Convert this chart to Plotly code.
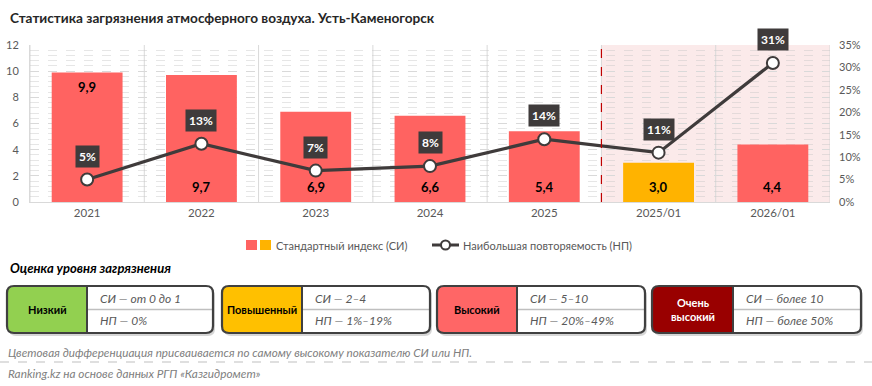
import plotly.graph_objects as go

categories = ["2021", "2022", "2023", "2024", "2025", "2025/01", "2026/01"]
si_values = [9.9, 9.7, 6.9, 6.6, 5.4, 3.0, 4.4]
si_labels = ["9,9", "9,7", "6,9", "6,6", "5,4", "3,0", "4,4"]
np_values = [5, 13, 7, 8, 14, 11, 31]
np_labels = ["5%", "13%", "7%", "8%", "14%", "11%", "31%"]
bar_colors = ["#FF6361", "#FF6361", "#FF6361", "#FF6361", "#FF6361", "#FFB300", "#FF6361"]
label_place = ["top", "bottom", "bottom", "bottom", "bottom", "bottom", "bottom"]

left_ticks = [0, 2, 4, 6, 8, 10, 12]
right_ticks = [0, 5, 10, 15, 20, 25, 30, 35]

levels = ["Низкий", "Повышенный", "Высокий", "Очень<br>высокий"]
level_colors = ["#92D050", "#FFC000", "#FF6666", "#990000"]
level_text_colors = ["#000000", "#000000", "#000000", "#FFFFFF"]
level_si = ["СИ — от 0 до 1", "СИ — 2–4", "СИ — 5–10", "СИ — более 10"]
level_np = ["НП — 0%", "НП — 1%–19%", "НП — 20%–49%", "НП — более 50%"]

FONT = "Lato"
W, H = 872, 386
L, R, T, B = 30, 830, 45, 202
PW, PH = R - L, B - T


def px(x):
    return (x - L) / PW


def py(y):
    return (B - y) / PH


fig = go.Figure()

fig.add_trace(go.Bar(
    x=categories, y=si_values, marker=dict(color=bar_colors, line=dict(width=0)),
    width=0.62, name="Стандартный индекс (СИ)", showlegend=False, hoverinfo="x+y",
))

fig.add_trace(go.Scatter(
    x=categories, y=np_values, yaxis="y2", mode="lines+markers",
    line=dict(color="#3F3B3B", width=3.2),
    marker=dict(size=12, color="#FFFFFF", line=dict(color="#3F3B3B", width=2)),
    name="Наибольшая повторяемость (НП)", showlegend=False,
))

shapes = []
annotations = []

# shaded forecast region
shapes.append(dict(type="rect", xref="x", yref="paper", x0=4.5, x1=6.5, y0=0, y1=1,
                   fillcolor="#FBEAEA", line=dict(width=0), layer="below"))
# category separators
for i in range(len(categories) + 1):
    shapes.append(dict(type="line", xref="x", yref="paper", x0=i - 0.5, x1=i - 0.5, y0=0, y1=1,
                       line=dict(color="#D9D9D9", width=1), layer="below"))
shapes.append(dict(type="line", xref="x", yref="paper", x0=4.5, x1=4.5, y0=0, y1=1,
                   line=dict(color="#C00000", width=1.2, dash="dash"), layer="above"))

# bar value labels
for i, (v, t, p) in enumerate(zip(si_values, si_labels, label_place)):
    if p == "top":
        annotations.append(dict(x=i, y=v, xref="x", yref="y", text="<b>" + t + "</b>", showarrow=False,
                                yanchor="top", yshift=-5, font=dict(family=FONT, size=13, color="#000000")))
    else:
        annotations.append(dict(x=i, y=0, xref="x", yref="y", text="<b>" + t + "</b>", showarrow=False,
                                yanchor="bottom", yshift=5, font=dict(family=FONT, size=13, color="#000000")))

# line value labels
for i, (v, t) in enumerate(zip(np_values, np_labels)):
    annotations.append(dict(x=i, y=v, xref="x", yref="y2", text="<b>" + t + "</b>", showarrow=False,
                            yanchor="bottom", yshift=12, bgcolor="#3F3B3B", borderpad=3,
                            font=dict(family=FONT, size=12, color="#FFFFFF")))

# title
annotations.append(dict(x=px(8), y=py(18), xref="paper", yref="paper", xanchor="left", yanchor="middle",
                        text="<b>Статистика загрязнения атмосферного воздуха. Усть-Каменогорск</b>",
                        showarrow=False, font=dict(family=FONT, size=13.6, color="#262626")))

# legend (manual)
shapes.append(dict(type="rect", xref="paper", yref="paper", x0=px(246), x1=px(257), y0=py(250), y1=py(240),
                   fillcolor="#FF6361", line=dict(width=0)))
shapes.append(dict(type="rect", xref="paper", yref="paper", x0=px(260), x1=px(271), y0=py(250), y1=py(240),
                   fillcolor="#FFB300", line=dict(width=0)))
annotations.append(dict(x=px(274), y=py(245), xref="paper", yref="paper", xanchor="left", yanchor="middle",
                        text="Стандартный индекс (СИ)", showarrow=False,
                        font=dict(family=FONT, size=11, color="#595959")))
shapes.append(dict(type="line", xref="paper", yref="paper", x0=px(432), x1=px(459), y0=py(245), y1=py(245),
                   line=dict(color="#3F3B3B", width=3)))
shapes.append(dict(type="circle", xref="paper", yref="paper", x0=px(441), x1=px(450), y0=py(249.5), y1=py(240.5),
                   fillcolor="#FFFFFF", line=dict(color="#3F3B3B", width=2)))
annotations.append(dict(x=px(461), y=py(245), xref="paper", yref="paper", xanchor="left", yanchor="middle",
                        text="Наибольшая повторяемость (НП)", showarrow=False,
                        font=dict(family=FONT, size=11, color="#595959")))

# section title
annotations.append(dict(x=px(8), y=py(268), xref="paper", yref="paper", xanchor="left", yanchor="middle",
                        text="<b><i>Оценка уровня загрязнения</i></b>", showarrow=False,
                        font=dict(family=FONT, size=13, color="#000000")))


def rounded_path(x0, y0, x1, y1, r, left=True, right=True):
    # pixel coords, y0 top, y1 bottom
    rl = r if left else 0
    rr = r if right else 0
    pts = []
    pts.append(f"M {px(x0 + rl)},{py(y0)}")
    pts.append(f"L {px(x1 - rr)},{py(y0)}")
    if rr:
        pts.append(f"Q {px(x1)},{py(y0)} {px(x1)},{py(y0 + rr)}")
    pts.append(f"L {px(x1)},{py(y1 - rr)}")
    if rr:
        pts.append(f"Q {px(x1)},{py(y1)} {px(x1 - rr)},{py(y1)}")
    pts.append(f"L {px(x0 + rl)},{py(y1)}")
    if rl:
        pts.append(f"Q {px(x0)},{py(y1)} {px(x0)},{py(y1 - rl)}")
    pts.append(f"L {px(x0)},{py(y0 + rl)}")
    if rl:
        pts.append(f"Q {px(x0)},{py(y0)} {px(x0 + rl)},{py(y0)}")
    pts.append("Z")
    return " ".join(pts)


box_x = [(7, 87, 213), (222, 302, 430), (437, 517, 645), (652, 733, 861)]
by0, by1 = 286, 333
rad = 7
for (x0, xm, x1), lv, col, tcol, si, npv in zip(box_x, levels, level_colors, level_text_colors, level_si, level_np):
    # shadow
    shapes.append(dict(type="path", xref="paper", yref="paper", path=rounded_path(x0 + 2, by0 + 3, x1 + 2, by1 + 3, rad),
                       fillcolor="rgba(0,0,0,0.16)", line=dict(width=0)))
    shapes.append(dict(type="path", xref="paper", yref="paper", path=rounded_path(x0, by0, x1, by1, rad),
                       fillcolor="#FFFFFF", line=dict(width=0)))
    shapes.append(dict(type="path", xref="paper", yref="paper", path=rounded_path(x0, by0, xm, by1, rad, right=False),
                       fillcolor=col, line=dict(width=0)))
    shapes.append(dict(type="line", xref="paper", yref="paper", x0=px(xm + 1), x1=px(x1 - 1), y0=py(309.5), y1=py(309.5),
                       line=dict(color="#BFBFBF", width=1.3)))
    shapes.append(dict(type="line", xref="paper", yref="paper", x0=px(xm), x1=px(xm), y0=py(by0), y1=py(by1),
                       line=dict(color="#404040", width=2)))
    shapes.append(dict(type="path", xref="paper", yref="paper", path=rounded_path(x0, by0, x1, by1, rad),
                       fillcolor="rgba(0,0,0,0)", line=dict(color="#404040", width=2.2)))
    annotations.append(dict(x=px((x0 + xm) / 2), y=py((by0 + by1) / 2), xref="paper", yref="paper",
                            xanchor="center", yanchor="middle", text="<b>" + lv + "</b>", showarrow=False,
                            font=dict(family=FONT, size=11, color=tcol)))
    annotations.append(dict(x=px(xm + 11), y=py(298), xref="paper", yref="paper", xanchor="left", yanchor="middle",
                            text="<i>" + si + "</i>", showarrow=False, font=dict(family=FONT, size=12, color="#595959")))
    annotations.append(dict(x=px(xm + 11), y=py(320), xref="paper", yref="paper", xanchor="left", yanchor="middle",
                            text="<i>" + npv + "</i>", showarrow=False, font=dict(family=FONT, size=12, color="#595959")))

# footnotes
annotations.append(dict(x=px(6), y=py(352), xref="paper", yref="paper", xanchor="left", yanchor="middle",
                        text="<i>Цветовая дифференциация присваивается по самому высокому показателю СИ или НП.</i>",
                        showarrow=False, font=dict(family=FONT, size=11.7, color="#808080")))
shapes.append(dict(type="line", xref="paper", yref="paper", x0=px(0), x1=px(872), y0=py(362), y1=py(362),
                   line=dict(color="#BFBFBF", width=1, dash="dash")))
annotations.append(dict(x=px(6), y=py(373), xref="paper", yref="paper", xanchor="left", yanchor="middle",
                        text="<i>Ranking.kz на основе данных РГП «Казгидромет»</i>",
                        showarrow=False, font=dict(family=FONT, size=11.8, color="#808080")))

fig.update_layout(
    width=W, height=H,
    margin=dict(l=L, r=W - R, t=T, b=H - B, pad=0, autoexpand=False),
    paper_bgcolor="#FFFFFF", plot_bgcolor="rgba(0,0,0,0)",
    showlegend=False, bargap=0.38,
    font=dict(family=FONT, size=11, color="#595959"),
    xaxis=dict(type="category", categoryorder="array", categoryarray=categories, range=[-0.5, 6.5],
               showgrid=False, showline=True, linecolor="#D9D9D9", linewidth=1, automargin=False,
               ticks="", tickfont=dict(family=FONT, size=11.5, color="#595959"), fixedrange=True),
    yaxis=dict(range=[0, 12], tickvals=left_ticks, showgrid=True, gridcolor="#D9D9D9", griddash="dash",
               gridwidth=1, zeroline=False, showline=True, linecolor="#D9D9D9", automargin=False,
               minor=dict(dtick=0.4, showgrid=True, gridcolor="rgba(200,200,200,0.45)", gridwidth=1),
               tickfont=dict(family=FONT, size=11, color="#595959"), ticklabelstandoff=8),
    yaxis2=dict(range=[0, 35], tickvals=right_ticks, ticktext=[f"{v}%" for v in right_ticks],
                overlaying="y", side="right", showgrid=False, zeroline=False, automargin=False,
                tickfont=dict(family=FONT, size=11, color="#595959"), ticklabelstandoff=8),
    shapes=shapes, annotations=annotations,
)

fig.write_html("out.html", config={"displayModeBar": False},
               post_script="document.body.style.margin='0';document.body.style.padding='0';")
